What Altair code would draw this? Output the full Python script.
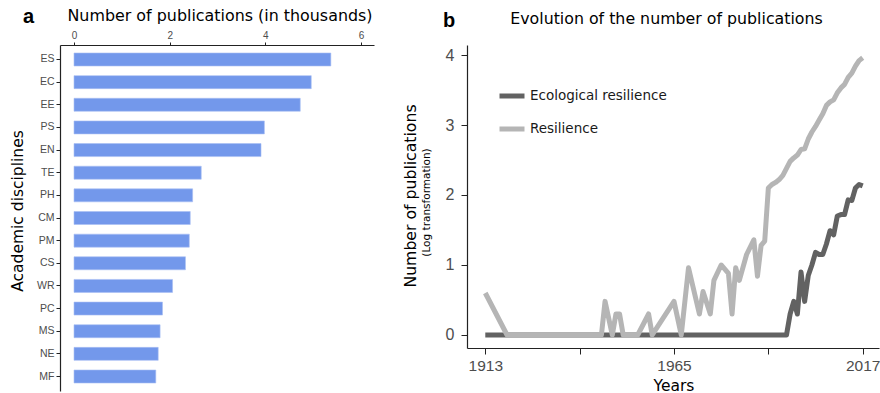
import altair as alt
import pandas as pd

# ---- Panel a: publications per academic discipline (thousands) ----
disciplines = ["ES", "EC", "EE", "PS", "EN", "TE", "PH", "CM", "PM", "CS",
               "WR", "PC", "MS", "NE", "MF"]
pubs_thousands = [5.37, 4.96, 4.73, 3.98, 3.91, 2.66, 2.48, 2.43, 2.41, 2.33,
                  2.06, 1.85, 1.80, 1.76, 1.71]

# ---- Panel b: yearly publications, log10 scale ----
eco_years = [1913, 1996, 1997, 1998, 1999, 2000, 2001, 2002, 2003, 2004, 2005,
             2006, 2007, 2008, 2009, 2010, 2011, 2012, 2013, 2014, 2015, 2016, 2017]
eco_values = [0.0, 0.0, 0.30, 0.48, 0.30, 0.90, 0.48, 0.85, 1.00, 1.18, 1.15,
              1.15, 1.30, 1.49, 1.43, 1.70, 1.72, 1.72, 1.93, 1.92, 2.10, 2.15, 2.13]

res_years = [1913, 1919, 1945, 1946, 1948, 1949, 1950, 1951, 1955, 1958, 1959,
             1965, 1967, 1969, 1972, 1973, 1975, 1976, 1978, 1980, 1981, 1982,
             1983, 1985, 1987, 1988, 1989, 1990, 1991, 1992, 1993, 1994, 1995,
             1996, 1997, 1998, 1999, 2000, 2001, 2002, 2003, 2004, 2005, 2006,
             2007, 2008, 2009, 2010, 2011, 2012, 2013, 2014, 2015, 2016, 2017]
res_values = [0.60, 0.0, 0.0, 0.48, 0.0, 0.30, 0.30, 0.0, 0.0, 0.30, 0.0,
              0.48, 0.0, 0.96, 0.30, 0.62, 0.30, 0.78, 1.00, 0.88, 0.30, 0.96,
              0.78, 1.15, 1.36, 0.84, 1.28, 1.34, 2.10, 2.15, 2.18, 2.22, 2.28,
              2.38, 2.48, 2.53, 2.57, 2.65, 2.66, 2.80, 2.90, 2.98, 3.07, 3.16,
              3.28, 3.33, 3.36, 3.46, 3.53, 3.58, 3.68, 3.74, 3.84, 3.92, 3.96]

series_names = ["Ecological resilience", "Resilience"]
series_colors = ["#626262", "#b5b5b5"]

TITLE_FONT = "DejaVu Sans"
TICK_FONT = "Liberation Sans"
AXIS_COLOR = "#222222"
LABEL_COLOR = "#4d4d4d"


def label(text, x, y, **kw):
    """A single piece of text placed in pixel coordinates of its panel."""
    return (
        alt.Chart(pd.DataFrame({"label": [text]}))
        .mark_text(**kw)
        .encode(x=alt.value(x), y=alt.value(y), text="label:N")
    )


# ---------------- Panel a ----------------
LW, LH = 314, 346
bar_df = pd.DataFrame({"discipline": disciplines, "pubs": pubs_thousands,
                       "base": [0.0] * len(disciplines)})

bars = alt.Chart(bar_df).mark_bar(color="#7398EB", stroke="#a9c0f3",
                                  strokeWidth=0.6).encode(
    x=alt.X("pubs:Q",
            scale=alt.Scale(domain=[-0.293, 6.272], nice=False, zero=False),
            axis=alt.Axis(orient="top", values=[0, 2, 4, 6], title=None,
                          grid=False, labelFont=TICK_FONT, labelFontSize=10,
                          labelColor=LABEL_COLOR, tickSize=3, labelPadding=2,
                          domainColor=AXIS_COLOR, tickColor=AXIS_COLOR,
                          domainWidth=1.2, labelFlush=False)),
    x2=alt.X2("base:Q"),
    y=alt.Y("discipline:N", sort=disciplines,
            scale=alt.Scale(paddingInner=0.426, paddingOuter=0.353),
            axis=alt.Axis(title=None, labelFont=TICK_FONT, labelFontSize=10.5,
                          labelColor=LABEL_COLOR, tickSize=4, labelPadding=2,
                          domainColor=AXIS_COLOR, tickColor=AXIS_COLOR,
                          domainWidth=1.2)),
)

# fixes the top-left corner of the whole figure
corner = alt.Chart(pd.DataFrame({"c": [0]})).mark_rule(
    color="white", strokeWidth=0.5).encode(
    x=alt.value(-59), x2=alt.value(-58), y=alt.value(-44), y2=alt.value(-43))

panel_a = alt.layer(
    corner,
    bars,
    label("a", -37, -22, font=TICK_FONT, fontSize=20, fontWeight="bold",
          align="left", baseline="alphabetic", color="black"),
    label("Number of publications (in thousands)", 160, -24, font=TITLE_FONT,
          fontSize=15.9, align="center", baseline="alphabetic", color="black"),
    label("Academic disciplines", -37.5, 166, font=TITLE_FONT, fontSize=15.5,
          angle=270, align="center", baseline="alphabetic", color="black"),
).properties(width=LW, height=LH)

# ---------------- Panel b ----------------
RW, RH = 412, 303
eco_df = pd.DataFrame({"year": eco_years, "value": eco_values,
                       "series": series_names[0]})
res_df = pd.DataFrame({"year": res_years, "value": res_values,
                       "series": series_names[1]})

x_enc = alt.X("year:Q",
              scale=alt.Scale(domain=[1907.96, 2021.49], nice=False, zero=False),
              axis=alt.Axis(values=[1913, 1939, 1965, 1991, 2017], format="d",
                            labelExpr="datum.value == 1939 || datum.value == 1991 ? '' : datum.label",
                            title=None, grid=False, labelFont=TICK_FONT,
                            labelFontSize=15.5, labelColor=LABEL_COLOR,
                            tickSize=6, labelPadding=4, domainColor=AXIS_COLOR,
                            tickColor=AXIS_COLOR, domainWidth=1.2,
                            labelFlush=False))
y_enc = alt.Y("value:Q",
              scale=alt.Scale(domain=[-0.186, 4.143], nice=False, zero=False),
              axis=alt.Axis(values=[0, 1, 2, 3, 4], title=None, grid=False,
                            labelFont=TICK_FONT, labelFontSize=16,
                            labelColor=LABEL_COLOR, tickSize=6, labelPadding=7,
                            domainColor=AXIS_COLOR, tickColor=AXIS_COLOR,
                            domainWidth=1.2, labelFlush=False))
# legend coordinates are measured from the first panel's plot origin
color_enc = alt.Color(
    "series:N",
    scale=alt.Scale(domain=series_names, range=series_colors),
    legend=alt.Legend(title=None, orient="none", legendX=437, legendY=36,
                      symbolType="stroke", symbolSize=625, symbolStrokeWidth=5,
                      labelFont=TITLE_FONT, labelFontSize=13.5,
                      labelColor="#1a1a1a", rowPadding=8, labelOffset=3,
                      padding=0),
)

line_kw = dict(strokeWidth=5, strokeJoin="round", strokeCap="butt")
eco_line = alt.Chart(eco_df).mark_line(**line_kw).encode(
    x=x_enc, y=y_enc, color=color_enc)
res_line = alt.Chart(res_df).mark_line(**line_kw).encode(
    x=x_enc, y=y_enc, color=color_enc)

panel_b = alt.layer(
    eco_line,
    res_line,
    label("b", -24, -18, font=TICK_FONT, fontSize=20, fontWeight="bold",
          align="left", baseline="alphabetic", color="black"),
    label("Evolution of the number of publications", 199.5, -21,
          font=TITLE_FONT, fontSize=15.8, align="center", baseline="alphabetic",
          color="black"),
    label("Number of publications", -51.5, 151, font=TITLE_FONT, fontSize=15.7,
          angle=270, align="center", baseline="alphabetic", color="black"),
    label("(Log transformation)", -37, 157.5, font=TITLE_FONT, fontSize=10.5,
          angle=270, align="center", baseline="alphabetic", color="black"),
    label("Years", 207, 345.5, font=TITLE_FONT, fontSize=15.5, align="center",
          baseline="alphabetic", color="black"),
).properties(width=RW, height=RH)

chart = (
    alt.hconcat(panel_a, panel_b, spacing=93, bounds="flush")
    .properties(padding=0, background="white")
    .configure_view(stroke=None)
)

chart.save("out.html", embed_options={"renderer": "svg", "actions": False})
